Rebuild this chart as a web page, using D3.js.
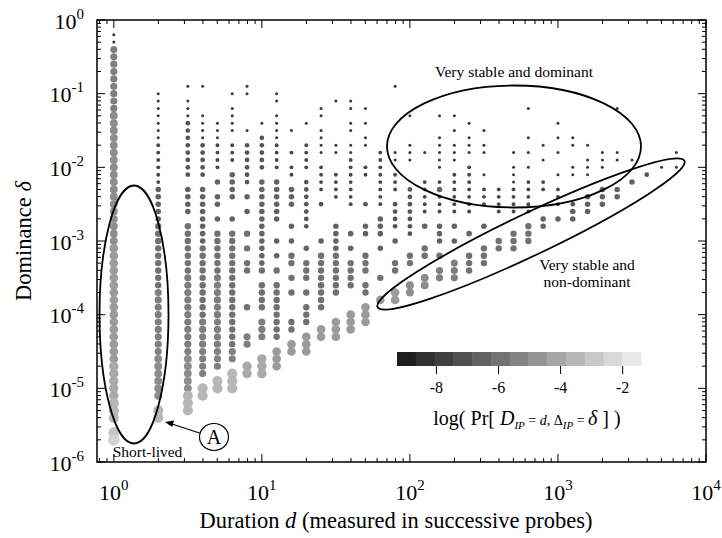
<!DOCTYPE html>
<html><head><meta charset="utf-8">
<script src="https://cdn.jsdelivr.net/npm/d3@7"></script>
<style>
body{margin:0;background:#fff}
svg{display:block}
text{font-family:"Liberation Serif","Times New Roman",serif;fill:#000;white-space:pre}
</style>
</head><body>
<svg id="c" width="722" height="538"></svg>
<script>
// ---------- data ----------
// duration columns: log10(d) * 10
const columnLogD = [0,3,5,6,7,8,9,10,11,12,13,14,15,16,17,18,19,20,21,22,23,24,25,26,27,28,29,30,31,32,33,34,35,36,37,38];
// cells per column: "row:level" or "rowFrom-rowTo:level"; row r => dominance 10^(-r/10)
// level letter: a=-9, b=-8.5, c=-8 ... (step 0.5) = log Pr
const columnCells = [
 "2-3:c 4-12:h 13-30:i 31-46:j 47-51:k 52-54:l 56:m 57:n",
 "10-16:c 17-22:d 23-27:f 28-36:g 37-45:h 46-51:i 53-54:l",
 "9:c 11-13:c 14-21:e 23-26:f 28-34:g 35-45:h 46-50:i 51-53:l",
 "9:c 13-16:c 17-21:e 23-30:f 31-40:g 41-48:h 50-51:l",
 "14-16:c 17-20:d 22:f 24-25:f 27:f 29-34:g 35-47:h 49-50:l",
 "10:c 12-15:c 17-19:d 21-24:f 27:f 29-44:g 45-46:h 48-50:l",
 "9-10:c 15:c 17-22:e 24:f 26:f 29:g 31:g 33-34:g 39:g 43-44:h 47-48:k",
 "14:c 16-20:e 22-33:f 34:g 36-39:g 41-43:h 46-48:k",
 "10-11:c 13-16:c 17-20:d 22-27:f 30:f 32:f 34:g 36-43:g 45-47:j",
 "15:c 18:d 20-21:d 23-25:f 28:f 30:f 32-33:g 35:g 37:g 41-42:g 44-45:j",
 "14:c 17-20:d 22-28:e 31:f 33-35:g 37:g 39-41:g 43-45:j",
 "12-13:c 15-18:c 20-23:d 25:e 30:f 32-39:g 42-43:j",
 "11:c 17-18:c 21-24:d 28-31:f 32-37:g 41-43:j",
 "11-12:c 14-15:c 17-18:c 19-25:d 29:f 31:f 33-36:g 40-42:j",
 "12:c 14:c 16-17:c 20-21:d 25:e 28-29:f 32-34:g 36-37:g 39-41:j",
 "18-25:d 27-29:f 31:f 35:g 38:j",
 "9:c 18-19:c 21-23:d 25-28:e 30:f 33-34:g 37-38:j",
 "13:c 17-19:c 23-29:e 32-33:g 36-37:i",
 "18:c 22-26:d 28:f 31-32:g 35-36:i",
 "13:c 16-20:c 22:d 23:f 24-26:d 28-30:f 32:g 34-35:h",
 "13:c 15:c 17-19:c 21-26:d 28:f 30:f 33-35:h",
 "14:c 16-18:c 20-26:d 29:f 32-34:g",
 "15:c 17-18:c 21:c 23-25:d 28:f 31-33:g",
 "23-26:d 30-31:g",
 "18:c 20-22:c 23-26:d 29-31:g",
 "12:c 16:c 18:c 20:c 22-26:d 28-30:g",
 "17:c 19:c 22-23:d 27-28:f",
 "14:c 16:c 18:c 21:c 23-25:d 27:f",
 "16-17:c 20-21:c 25:e 26-27:f",
 "17:c 19-21:c 24-26:f",
 "18-20:c 23-25:f",
 "12:c 18-19:c 23-24:f",
 "19:c 22:f",
 "21:e",
 "20:c",
 "18:c 20:c"
];
const xTickExps = [0,1,2,3,4];
const yTickExps = [0,-1,-2,-3,-4,-5,-6];
const cbarTicks = [-8,-6,-4,-2];
const cbarDomain = [-9.27,-1.41];
const cbarSteps = 13;

// ---------- build points ----------
const points = [];
columnCells.forEach((spec, ci) => {
  const d = Math.pow(10, columnLogD[ci] / 10);
  spec.split(" ").forEach(tok => {
    const [rng, lv] = tok.split(":");
    const [a, b] = rng.split("-").map(Number);
    const v = -9 + ("abcdefghijklmnopq".indexOf(lv)) * 0.5;
    for (let r = a; r <= (isNaN(b) ? a : b); r++) {
      points.push({d, delta: Math.pow(10, -r / 10), v});
    }
  });
});

// ---------- scales ----------
const X0 = 97, X1 = 706, Y0 = 20, Y1 = 462;
const x = d3.scaleLog().domain([0.77, 1e4]).range([X0, X1]);
const y = d3.scaleLog().domain([1e-6, 1]).range([Y1, Y0]);
const color = d3.scaleLinear().domain(cbarDomain).range(["#151515", "#f2f2f2"]).clamp(true);
const rad = d3.scaleLinear().domain([-8, -6, -2]).range([1.5, 3.2, 6.2]);

const svg = d3.select("#c");

// points
svg.append("g").selectAll("circle").data(points).join("circle")
  .attr("cx", p => x(p.d)).attr("cy", p => y(p.delta))
  .attr("r", p => rad(p.v)).attr("fill", p => color(p.v));

// ---------- frame & ticks ----------
const xt = [], yt = [];
for (let e = -1; e <= 4; e++) for (let m = 1; m <= 9; m++) {
  const v = m * Math.pow(10, e);
  if (v >= 0.77 && v <= 1e4 + 1) xt.push({v, major: m === 1});
}
for (let e = -6; e <= 0; e++) for (let m = 1; m <= 9; m++) {
  const v = m * Math.pow(10, e);
  if (v >= 1e-6 && v <= 1.0001) yt.push({v, major: m === 1});
}
const tg = svg.append("g").attr("stroke", "#000").attr("stroke-width", 1);
const ML = 8, mL = 4;
tg.selectAll(".xb").data(xt).join("line")
  .attr("x1", t => x(t.v)).attr("x2", t => x(t.v))
  .attr("y1", Y1).attr("y2", t => Y1 - (t.major ? ML : mL));
tg.selectAll(".xt").data(xt).join("line")
  .attr("x1", t => x(t.v)).attr("x2", t => x(t.v))
  .attr("y1", Y0).attr("y2", t => Y0 + (t.major ? ML : mL));
tg.selectAll(".yl").data(yt).join("line")
  .attr("y1", t => y(t.v)).attr("y2", t => y(t.v))
  .attr("x1", X0).attr("x2", t => X0 + (t.major ? ML : mL));
tg.selectAll(".yr").data(yt).join("line")
  .attr("y1", t => y(t.v)).attr("y2", t => y(t.v))
  .attr("x1", X1).attr("x2", t => X1 - (t.major ? ML : mL));
svg.append("rect").attr("x", X0).attr("y", Y0).attr("width", X1 - X0).attr("height", Y1 - Y0)
  .attr("fill", "none").attr("stroke", "#000").attr("stroke-width", 1.5);

// tick labels
const xl = svg.append("g").selectAll("text").data(xTickExps).join("text")
  .attr("x", e => x(Math.pow(10, e))).attr("y", 500)
  .attr("text-anchor", "middle").attr("font-size", 22);
xl.append("tspan").text("10");
xl.append("tspan").attr("dy", -10).attr("font-size", 15).text(e => String(e));

const yl = svg.append("g").selectAll("text").data(yTickExps).join("text")
  .attr("x", 84).attr("y", e => y(Math.pow(10, e)) + 8.5)
  .attr("text-anchor", "end").attr("font-size", 22);
yl.append("tspan").text("10");
yl.append("tspan").attr("dy", -10).attr("font-size", 15).text(e => String(e));

// axis titles
const xtitle = svg.append("text").attr("x", 396).attr("y", 528).attr("text-anchor", "middle").attr("font-size", 22.5);
xtitle.append("tspan").text("Duration ");
xtitle.append("tspan").attr("font-style", "italic").text("d");
xtitle.append("tspan").text(" (measured in successive probes)");

const ytitle = svg.append("text").attr("transform", "translate(31,241) rotate(-90)")
  .attr("text-anchor", "middle").attr("font-size", 22.5);
ytitle.append("tspan").text("Dominance ");
ytitle.append("tspan").attr("font-style", "italic").text("δ");

// ---------- colorbar ----------
const cb = d3.scaleLinear().domain(cbarDomain).range([397, 641]);
const step = (cbarDomain[1] - cbarDomain[0]) / cbarSteps;
const blocks = d3.range(cbarSteps).map(i => cbarDomain[0] + i * step);
svg.append("g").selectAll("rect").data(blocks).join("rect")
  .attr("x", v => cb(v)).attr("y", 352)
  .attr("width", v => cb(v + step) - cb(v) + 0.5).attr("height", 14)
  .attr("fill", v => color(v + step / 2));
svg.append("g").attr("stroke", "#000").selectAll("line").data(cbarTicks).join("line")
  .attr("x1", v => cb(v)).attr("x2", v => cb(v)).attr("y1", 366).attr("y2", 374);
svg.append("g").selectAll("text").data(cbarTicks).join("text")
  .attr("x", v => cb(v)).attr("y", 393).attr("text-anchor", "middle").attr("font-size", 16)
  .text(v => String(v));

const lt = svg.append("text").attr("x", 527).attr("y", 425).attr("text-anchor", "middle").attr("font-size", 20);
lt.append("tspan").text("log( Pr[ ");
lt.append("tspan").attr("font-style", "italic").text("D");
lt.append("tspan").attr("font-style", "italic").attr("font-size", 11).attr("dy", 4).text("IP");
lt.append("tspan").attr("font-size", 14).attr("dy", -4).text(" = ");
lt.append("tspan").attr("font-style", "italic").attr("font-size", 14).text("d");
lt.append("tspan").attr("font-size", 14).text(", Δ");
lt.append("tspan").attr("font-style", "italic").attr("font-size", 11).attr("dy", 4).text("IP");
lt.append("tspan").attr("font-size", 14).attr("dy", -4).text(" = ");
lt.append("tspan").attr("font-style", "italic").text("δ");
lt.append("tspan").text(" ] )");

// ---------- annotations ----------
const an = svg.append("g").attr("fill", "none").attr("stroke", "#000").attr("stroke-width", 1.8);
an.append("ellipse").attr("cx", 134).attr("cy", 314.5).attr("rx", 34.5).attr("ry", 129);
an.append("ellipse").attr("cx", 514).attr("cy", 146.5).attr("rx", 127).attr("ry", 61);
an.append("ellipse").attr("transform", "translate(531,234) rotate(-25.5)").attr("rx", 170).attr("ry", 21);
an.append("ellipse").attr("cx", 214).attr("cy", 437).attr("rx", 14.5).attr("ry", 13.5).attr("stroke-width", 1.2);
an.append("line").attr("x1", 199.5).attr("y1", 433).attr("x2", 172).attr("y2", 424).attr("stroke-width", 1.2);
svg.append("path").attr("d", "M165,422 L174,420.5 L172.2,427 Z").attr("fill", "#000");

svg.append("text").attr("x", 214).attr("y", 444).attr("text-anchor", "middle").attr("font-size", 20).text("A");
svg.append("text").attr("x", 147.5).attr("y", 457).attr("text-anchor", "middle").attr("font-size", 15.5).text("Short-lived");
svg.append("text").attr("x", 514).attr("y", 77).attr("text-anchor", "middle").attr("font-size", 15.5).text("Very stable and dominant");
svg.append("text").attr("x", 587).attr("y", 270).attr("text-anchor", "middle").attr("font-size", 15.5).text("Very stable and");
svg.append("text").attr("x", 587).attr("y", 287).attr("text-anchor", "middle").attr("font-size", 15.5).text("non-dominant");
</script>
</body></html>
